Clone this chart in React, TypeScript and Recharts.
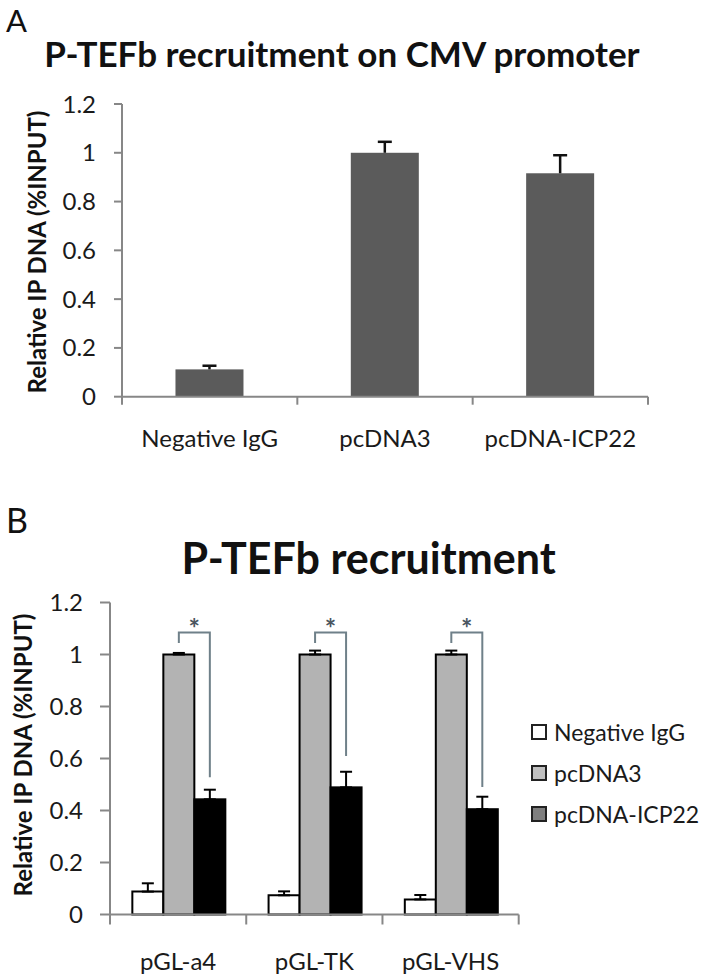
import { BarChart, Bar, XAxis, YAxis, ErrorBar, Legend } from "recharts"

const FONT = 'Lato, "Open Sans", sans-serif'
const AXIS = '#878787'
const TEXT = '#1a1a1a'

// panel A
const cmvCategories = ['Negative IgG', 'pcDNA3', 'pcDNA-ICP22']
const cmvValues = [0.112, 1.0, 0.916]
const cmvErrors = [0.015, 0.045, 0.074]

// panel B
const promoterCategories = ['pGL-a4', 'pGL-TK', 'pGL-VHS']
const negIgG = [0.088, 0.074, 0.058]
const negIgGErr = [0.032, 0.015, 0.017]
const pcDNA3 = [1.0, 1.0, 1.0]
const pcDNA3Err = [0.006, 0.015, 0.015]
const icp22 = [0.443, 0.489, 0.405]
const icp22Err = [0.037, 0.06, 0.048]
const bracketTop = [1.085, 1.085, 1.085]
const bracketLeftEnd = [1.044, 1.044, 1.044]
const bracketRightEnd = [0.528, 0.61, 0.49]

const yTicks = [0, 0.2, 0.4, 0.6, 0.8, 1, 1.2]

const cmvData = cmvCategories.map((cat, i) => ({
  cat, value: cmvValues[i], err: cmvErrors[i],
}))

const promoterData = promoterCategories.map((cat, i) => ({
  cat,
  neg: negIgG[i], negErr: [0, negIgGErr[i]],
  pc: pcDNA3[i], pcErr: [0, pcDNA3Err[i]],
  icp: icp22[i], icpErr: [0, icp22Err[i]],
  bTop: bracketTop[i], bLeft: bracketLeftEnd[i], bRight: bracketRightEnd[i],
}))

const legendItems = [
  { label: 'Negative IgG', fill: '#ffffff' },
  { label: 'pcDNA3', fill: '#c0c0c0' },
  { label: 'pcDNA-ICP22', fill: '#7f7f7f' },
]

function XTick(props: any) {
  const { x, y, payload, index, bandWidth, labelOffset, tickLen } = props
  const half = bandWidth / 2
  return <g>
    {index === 0 && <line x1={x - half} x2={x - half} y1={y} y2={y + tickLen} stroke={AXIS} strokeWidth={2} />}
    <line x1={x + half} x2={x + half} y1={y} y2={y + tickLen} stroke={AXIS} strokeWidth={2} />
    <text x={x} y={y + labelOffset} textAnchor="middle" dominantBaseline="central"
      fontFamily={FONT} fontSize={24} fill={TEXT}>{payload.value}</text>
  </g>
}

// grey bar with an upper-only error whisker (no cap at the bar top)
function CmvBar(props: any) {
  const { x, y, width, height, payload } = props
  const perUnit = height / payload.value
  const cx = x + width / 2
  const errY = y - payload.err * perUnit
  return <g>
    <rect x={x} y={y} width={width} height={height} fill="#5b5b5b" />
    <line x1={cx} x2={cx} y1={y} y2={errY} stroke="#111" strokeWidth={2.5} />
    <line x1={cx - 7} x2={cx + 7} y1={errY} y2={errY} stroke="#111" strokeWidth={2.5} />
  </g>
}

// black bar + significance bracket to the pcDNA3 bar next to it
function Icp22Bar(props: any) {
  const { x, y, width, height, payload } = props
  const base = y + height
  const perUnit = height / payload.icp
  const toY = (v: number) => base - v * perUnit
  const right = x + width / 2
  const left = right - width
  const top = toY(payload.bTop)
  return <g>
    <rect x={x} y={y} width={width} height={height} fill="#000" stroke="#000" strokeWidth={2} />
    <path d={`M${left},${toY(payload.bLeft)}V${top}H${right}V${toY(payload.bRight)}`}
      fill="none" stroke="#6f8089" strokeWidth={2} />
    <text x={(left + right) / 2} y={top + 6} textAnchor="middle" fontFamily={FONT}
      fontSize={27} fontWeight="bold" fill="#4a5560">*</text>
  </g>
}

function LegendBox() {
  return <div style={{ fontFamily: FONT, fontSize: 23, color: TEXT, whiteSpace: 'nowrap' }}>
    {legendItems.map(item => (
      <div key={item.label} style={{ display: 'flex', alignItems: 'center', height: 41 }}>
        <span style={{ width: 12, height: 12, border: '2px solid #222', background: item.fill, marginRight: 7, flexShrink: 0 }} />
        <span>{item.label}</span>
      </div>
    ))}
  </div>
}

const A_W = 703, A_H = 480
const A_M = { top: 104, right: 55, bottom: 23.3, left: 0 }
const A_YW = 122
const A_BAND = (A_W - A_M.right - A_YW) / cmvCategories.length

const B_W = 703, B_H = 478
const B_M = { top: 102.5, right: 184.3, bottom: 13.5, left: 0 }
const B_YW = 110
const B_BAND = (B_W - B_M.right - B_YW) / promoterCategories.length

export default function App() {
  return <div style={{ position: 'absolute', left: 0, top: 0, width: 703, height: 978, background: '#fff', overflow: 'hidden' }}>
    <svg width={703} height={978} style={{ position: 'absolute', left: 0, top: 0, pointerEvents: 'none' }}>
      <text x={6} y={32} fontFamily={FONT} fontSize={31} fill="#111">A</text>
      <text x={342} y={66.7} textAnchor="middle" fontFamily={FONT} fontSize={35} fontWeight="bold" fill="#111">
        P-TEFb recruitment on CMV promoter</text>
      <text x={36} y={252} transform="rotate(-90 36 252)" textAnchor="middle" dominantBaseline="central"
        fontFamily={FONT} fontSize={24} fontWeight="bold" fill="#111">Relative IP DNA (%INPUT)</text>
      <text x={6} y={533} fontFamily={FONT} fontSize={34} fill="#111">B</text>
      <text x={368.6} y={574} textAnchor="middle" fontFamily={FONT} fontSize={43} fontWeight="bold" fill="#111">
        P-TEFb recruitment</text>
      <text x={22} y={755} transform="rotate(-90 22 755)" textAnchor="middle" dominantBaseline="central"
        fontFamily={FONT} fontSize={24} fontWeight="bold" fill="#111">Relative IP DNA (%INPUT)</text>
    </svg>

    <div style={{ position: 'absolute', left: 0, top: 0 }}>
      <BarChart width={A_W} height={A_H} data={cmvData} margin={A_M} barCategoryGap="30.5%">
        <XAxis dataKey="cat" height={60} interval={0} tickSize={0} tickMargin={0} tickLine={false}
          axisLine={{ stroke: AXIS, strokeWidth: 2 }}
          tick={(p: any) => <XTick {...p} bandWidth={A_BAND} labelOffset={41} tickLen={8} />} />
        <YAxis width={A_YW} domain={[0, 1.2]} ticks={yTicks} interval={0} tickSize={8} tickMargin={18}
          axisLine={{ stroke: AXIS, strokeWidth: 2 }} tickLine={{ stroke: AXIS, strokeWidth: 2 }}
          tick={{ fontSize: 24, fill: TEXT, fontFamily: FONT }} />
        <Bar dataKey="value" fill="#5b5b5b" shape={CmvBar} isAnimationActive={false} />
      </BarChart>
    </div>

    <div style={{ position: 'absolute', left: 0, top: 500 }}>
      <BarChart width={B_W} height={B_H} data={promoterData} margin={B_M} barCategoryGap="16.4%" barGap={0}>
        <XAxis dataKey="cat" height={50} interval={0} tickSize={0} tickMargin={0} tickLine={false}
          axisLine={{ stroke: AXIS, strokeWidth: 2 }}
          tick={(p: any) => <XTick {...p} bandWidth={B_BAND} labelOffset={45.5} tickLen={10} />} />
        <YAxis width={B_YW} domain={[0, 1.2]} ticks={yTicks} interval={0} tickSize={10} tickMargin={17}
          axisLine={{ stroke: AXIS, strokeWidth: 2 }} tickLine={{ stroke: AXIS, strokeWidth: 2 }}
          tick={{ fontSize: 24, fill: TEXT, fontFamily: FONT }} />
        <Legend layout="vertical" align="center" verticalAlign="middle" content={() => <LegendBox />}
          wrapperStyle={{ left: 531, top: 211, width: 172 }} />
        <Bar dataKey="neg" name="Negative IgG" fill="#fff" stroke="#000" strokeWidth={2} isAnimationActive={false}>
          <ErrorBar dataKey="negErr" direction="y" width={6} strokeWidth={2} stroke="#000" />
        </Bar>
        <Bar dataKey="pc" name="pcDNA3" fill="#b3b3b3" stroke="#000" strokeWidth={2} isAnimationActive={false}>
          <ErrorBar dataKey="pcErr" direction="y" width={6} strokeWidth={2} stroke="#000" />
        </Bar>
        <Bar dataKey="icp" name="pcDNA-ICP22" fill="#000" shape={Icp22Bar} isAnimationActive={false}>
          <ErrorBar dataKey="icpErr" direction="y" width={6} strokeWidth={2} stroke="#000" />
        </Bar>
      </BarChart>
    </div>
  </div>
}
